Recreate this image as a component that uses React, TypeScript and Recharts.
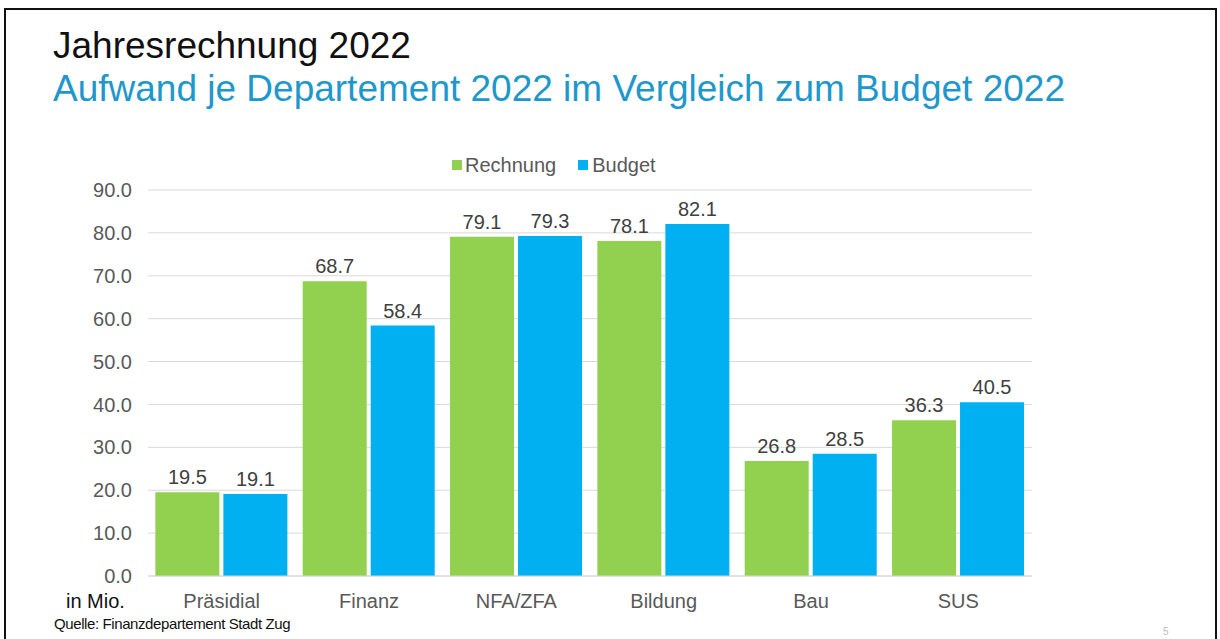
import { BarChart, Bar, XAxis, YAxis, CartesianGrid, LabelList } from 'recharts';

const departments = ['Präsidial', 'Finanz', 'NFA/ZFA', 'Bildung', 'Bau', 'SUS'];
const rechnung = [19.5, 68.7, 79.1, 78.1, 26.8, 36.3];
const budget = [19.1, 58.4, 79.3, 82.1, 28.5, 40.5];
const yTicks = [0, 10, 20, 30, 40, 50, 60, 70, 80, 90];

const GREEN = '#92d050';
const BLUE = '#00b0f0';
const FONT = '"Liberation Sans", Arial, sans-serif';

const data = departments.map((name, i) => ({
  name,
  rechnung: rechnung[i],
  budget: budget[i],
}));

const fmt = (v: number) => v.toFixed(1);

export default function App() {
  return (
    <div style={{ position: 'absolute', left: 0, top: 0, width: 1220, height: 639, background: '#fff', overflow: 'hidden', fontFamily: FONT }}>
      {/* slide frame */}
      <div style={{ position: 'absolute', left: 4, top: 8, width: 1209, height: 640, border: '2px solid #111', borderBottom: 'none' }} />

      <div style={{ position: 'absolute', left: 53, top: 27, fontSize: 37, lineHeight: 1, color: '#111', whiteSpace: 'nowrap' }}>
        Jahresrechnung 2022
      </div>
      <div style={{ position: 'absolute', left: 53, top: 70, fontSize: 37, lineHeight: 1, color: '#1e98cc', whiteSpace: 'nowrap' }}>
        Aufwand je Departement 2022 im Vergleich zum Budget 2022
      </div>

      {/* legend */}
      <div style={{ position: 'absolute', left: 452, top: 155, display: 'flex', alignItems: 'center', fontSize: 20, color: '#595959', lineHeight: 1 }}>
        <span style={{ width: 10, height: 10, background: GREEN, marginRight: 3 }} />
        <span style={{ marginRight: 22 }}>Rechnung</span>
        <span style={{ width: 10, height: 10, background: BLUE, marginRight: 4 }} />
        <span>Budget</span>
      </div>

      <div style={{ position: 'absolute', left: 0, top: 0 }}>
        <BarChart
          width={1220}
          height={639}
          data={data}
          margin={{ top: 190, right: 188, bottom: 33, left: 68 }}
          barCategoryGap="5%"
          barGap={4}
        >
          <CartesianGrid vertical={false} stroke="#d9d9d9" />
          <XAxis
            dataKey="name"
            tickLine={false}
            stroke="#d9d9d9"
            tick={{ fill: '#595959', fontSize: 20, fontFamily: FONT }}
            tickMargin={12}
          />
          <YAxis
            width={80}
            domain={[0, 90]}
            ticks={yTicks}
            tickFormatter={fmt}
            axisLine={false}
            tickLine={false}
            tickMargin={10}
            tick={{ fill: '#595959', fontSize: 20, fontFamily: FONT }}
          />
          <Bar dataKey="rechnung" fill={GREEN} isAnimationActive={false}>
            <LabelList dataKey="rechnung" position="top" offset={8} formatter={(v: number) => fmt(v)} fill="#404040" fontSize={20} fontFamily={FONT} />
          </Bar>
          <Bar dataKey="budget" fill={BLUE} isAnimationActive={false}>
            <LabelList dataKey="budget" position="top" offset={8} formatter={(v: number) => fmt(v)} fill="#404040" fontSize={20} fontFamily={FONT} />
          </Bar>
        </BarChart>
      </div>

      <div style={{ position: 'absolute', left: 66, top: 591, fontSize: 20, lineHeight: 1, color: '#111' }}>in Mio.</div>
      <div style={{ position: 'absolute', left: 54, top: 616, fontSize: 15, lineHeight: 1, color: '#111', letterSpacing: -0.4, whiteSpace: 'nowrap' }}>
        Quelle: Finanzdepartement Stadt Zug
      </div>
      <div style={{ position: 'absolute', left: 1163, top: 627, fontSize: 10, lineHeight: 1, color: '#bbb' }}>5</div>
    </div>
  );
}
